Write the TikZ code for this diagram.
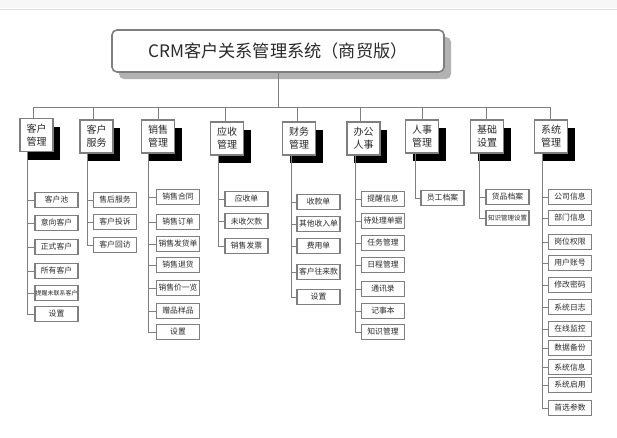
\documentclass[tikz,border=0pt]{standalone}
\usepackage{fontspec}
\newfontfamily\cjk{Noto Sans CJK SC}
\usetikzlibrary{shadows}
\definecolor{ln}{HTML}{7F7F7F}
\definecolor{txt}{HTML}{2A2A2A}
\begin{document}
\begin{tikzpicture}[x=1pt,y=-1pt,
  conn/.style={draw=ln, line width=1pt},
  title/.style={draw=ln, line width=1.6pt, rounded corners=5pt, fill=white,
    minimum width=332pt, minimum height=42pt, inner sep=0pt,
    font=\cjk\fontsize{17.2}{18}\selectfont, text=txt,
    drop shadow={shadow xshift=7pt, shadow yshift=-7pt, fill=black!30, opacity=1}},
  cat/.style={draw=ln, line width=1.3pt, fill=white, minimum width=33pt,
    minimum height=33pt, inner sep=0pt, align=center,
    font=\cjk\fontsize{10}{13}\selectfont, text=txt,
    drop shadow={shadow xshift=7pt, shadow yshift=-8pt, fill=black, opacity=1}},
  leaf/.style={draw=ln, line width=1.2pt, fill=white, minimum width=43pt,
    minimum height=15pt, inner sep=0pt, font=\cjk\fontsize{7.8}{8}\selectfont, text=txt},
  tiny/.style={font=\cjk\fontsize{6}{7}\selectfont},
  small/.style={font=\cjk\fontsize{6.5}{7}\selectfont}]
\useasboundingbox (0,0) rectangle (617,437);
\fill[white] (0,0) rectangle (617,437);
\fill[black!3] (0,0) rectangle (617,8);
\draw[black!12, line width=1pt] (0,9) -- (617,9);

% title
\node[title] (T) at (278,51) {CRM客户关系管理系统（商贸版）};

% bus coordinates
\coordinate (b1) at (33,107);
\coordinate (b2) at (93,107);
\coordinate (b3) at (158,107);
\coordinate (b4) at (225,107);
\coordinate (b5) at (297,107);
\coordinate (b6) at (360,107);
\coordinate (b7) at (422,107);
\coordinate (b8) at (486,107);
\coordinate (b9) at (550,107);
\draw[conn] (b1) -- (b9);
\draw[conn] (T.south) -- (T.south |- b1);

% categories
\node[cat] (c1) at (36.5,135) {客户\\管理};
\node[cat] (c2) at (96.5,136.5) {客户\\服务};
\node[cat] (c3) at (158,136.5) {销售\\管理};
\node[cat] (c4) at (227,138.5) {应收\\管理};
\node[cat] (c5) at (299,138.5) {财务\\管理};
\node[cat] (c6) at (363.5,138.5) {办公\\人事};
\node[cat] (c7) at (422,136.5) {人事\\管理};
\node[cat] (c8) at (487,136.5) {基础\\设置};
\node[cat] (c9) at (551,136.5) {系统\\管理};

\foreach \i in {1,...,9} \draw[conn] (b\i) -- (b\i |- c\i.north);

% trunk start coordinates
\coordinate (t1) at (27,152);
\coordinate (t2) at (87,153);
\coordinate (t3) at (148,153);
\coordinate (t4) at (218,155);
\coordinate (t5) at (291.5,155);
\coordinate (t6) at (355,155);
\coordinate (t7) at (415,153);
\coordinate (t8) at (479,153);
\coordinate (t9) at (542,153);

% leaves column 1
\foreach \t/\y/\s [count=\i] in {客户池/200/leaf, 意向客户/223/leaf, 正式客户/247/leaf, 所有客户/271/leaf, 提醒未联系客户/293/tiny, 设置/314/leaf}
  \node[leaf,\s] (a\i) at (56.5,\y) {\t};
\foreach \i in {1,...,6} \draw[conn] (t1 |- a\i.west) -- (a\i.west);
\draw[conn] (t1) |- (a6.west);

% column 2
\foreach \t/\y [count=\i] in {售后服务/200, 客户投诉/222, 客户回访/245}
  \node[leaf] (d\i) at (115,\y) {\t};
\foreach \i in {1,...,3} \draw[conn] (t2 |- d\i.west) -- (d\i.west);
\draw[conn] (t2) |- (d3.west);

% column 3
\foreach \t/\y [count=\i] in {销售合同/197, 销售订单/222, 销售发货单/244, 销售退货/265, 销售价一览/288, 赠品样品/311, 设置/332}
  \node[leaf] (e\i) at (178,\y) {\t};
\foreach \i in {1,...,7} \draw[conn] (t3 |- e\i.west) -- (e\i.west);
\draw[conn] (t3) |- (e7.west);

% column 4
\foreach \t/\y [count=\i] in {应收单/199, 未收欠款/221, 销售发票/246}
  \node[leaf] (f\i) at (246.5,\y) {\t};
\foreach \i in {1,...,3} \draw[conn] (t4 |- f\i.west) -- (f\i.west);
\draw[conn] (t4) |- (f3.west);

% column 5
\foreach \t/\y [count=\i] in {收款单/202, 其他收入单/224, 费用单/246, 客户往来款/272, 设置/297}
  \node[leaf] (g\i) at (318.5,\y) {\t};
\foreach \i in {1,...,5} \draw[conn] (t5 |- g\i.west) -- (g\i.west);
\draw[conn] (t5) |- (g5.west);

% column 6
\foreach \t/\y [count=\i] in {提醒信息/199, 待处理单据/221, 任务管理/243, 日程管理/265, 通讯录/289, 记事本/311, 知识管理/332}
  \node[leaf] (h\i) at (383,\y) {\t};
\foreach \i in {1,...,7} \draw[conn] (t6 |- h\i.west) -- (h\i.west);
\draw[conn] (t6) |- (h7.west);

% column 7
\node[leaf] (p1) at (442.5,198) {员工档案};
\draw[conn] (t7) |- (p1.west);

% column 8
\node[leaf] (q1) at (507.5,197) {货品档案};
\node[leaf,small] (q2) at (507.5,218) {知识管理设置};
\draw[conn] (t8 |- q1.west) -- (q1.west);
\draw[conn] (t8) |- (q2.west);

% column 9
\foreach \t/\y [count=\i] in {公司信息/197, 部门信息/218, 岗位权限/242, 用户账号/263, 修改密码/285, 系统日志/307, 在线监控/329, 数据备份/348, 系统信息/367, 系统启用/385, 首选参数/408}
  \node[leaf] (r\i) at (570,\y) {\t};
\foreach \i in {1,...,11} \draw[conn] (t9 |- r\i.west) -- (r\i.west);
\draw[conn] (t9) |- (r11.west);
\end{tikzpicture}
\end{document}
